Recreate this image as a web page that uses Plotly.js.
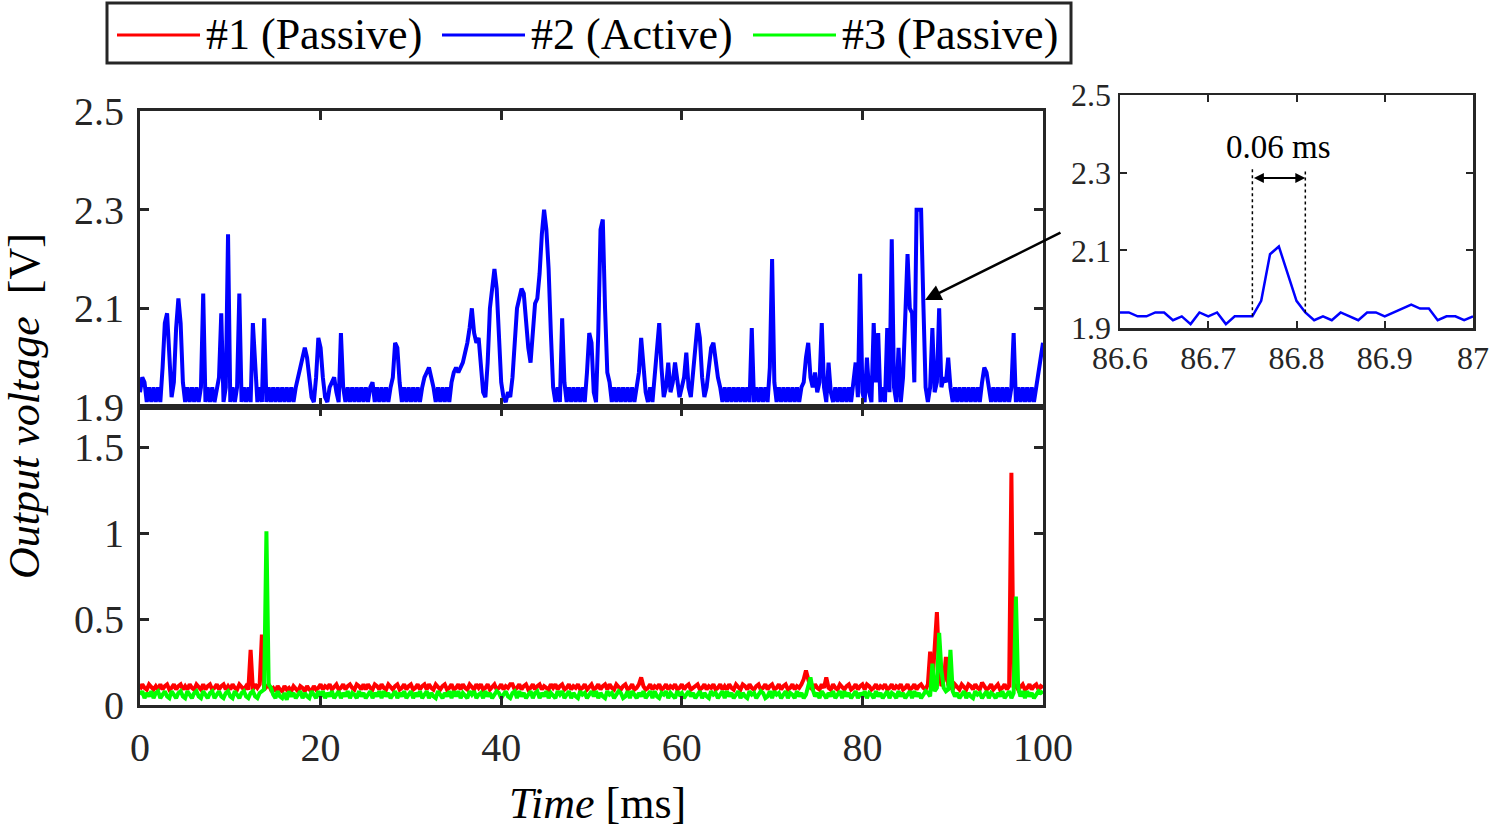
<!DOCTYPE html>
<html lang="en">
  <head>
    <meta charset="UTF-8" />
    <title>Output voltage</title>
    <script src="https://cdn.plot.ly/plotly-3.0.1.min.js"></script>
    <style>
      body { margin: 0; padding: 0; background: #fff; }
      #plot { width: 1489px; height: 827px; }
    </style>
  </head>
  <body>
    <div id="plot"></div>
    <script>
      // sample step of the read-off traces [ms]
      const dt = 0.25;

      // #2 (Active), top panel, t = 0..100 ms
      const v2 = [
        1.93,1.96,1.95,1.91,1.94,1.91,1.94,1.91,1.94,1.91,1.98,2.07,2.09,2.02,1.92,1.95,2.06,2.12,2.07,1.95,
        1.91,1.94,1.91,1.94,1.91,1.94,1.91,1.94,2.13,1.91,1.94,1.91,1.94,1.91,1.94,1.96,2.09,1.91,1.94,2.25,
        1.91,1.94,1.91,1.94,2.13,1.91,1.94,1.91,1.94,1.91,2.07,1.97,1.91,1.94,1.91,2.08,1.91,1.94,1.91,1.94,
        1.91,1.94,1.91,1.94,1.91,1.94,1.91,1.94,1.91,1.94,1.96,1.98,2.00,2.02,2.00,1.96,1.92,1.91,1.96,2.04,
        2.02,1.96,1.92,1.91,1.94,1.95,1.96,1.93,1.91,2.05,1.94,1.91,1.94,1.91,1.94,1.91,1.94,1.91,1.94,1.91,
        1.94,1.91,1.94,1.95,1.91,1.94,1.91,1.94,1.91,1.94,1.91,1.94,1.96,2.03,2.02,1.95,1.91,1.94,1.91,1.94,
        1.91,1.94,1.91,1.94,1.91,1.94,1.96,1.97,1.98,1.96,1.94,1.91,1.94,1.91,1.94,1.91,1.94,1.91,1.95,1.97,
        1.98,1.97,1.98,1.99,2.01,2.03,2.06,2.10,2.05,2.03,2.04,1.99,1.93,1.92,1.99,2.10,2.15,2.18,2.14,2.03,
        1.95,1.92,1.91,1.93,1.92,1.96,2.04,2.10,2.12,2.14,2.13,2.07,2.02,1.99,2.06,2.11,2.12,2.17,2.25,2.30,
        2.26,2.18,2.05,1.94,1.91,1.94,1.91,2.08,1.95,1.91,1.94,1.91,1.94,1.91,1.94,1.91,1.94,1.91,1.97,2.05,
        2.03,1.93,1.91,2.05,2.26,2.28,2.10,1.97,1.95,1.91,1.94,1.91,1.94,1.91,1.94,1.91,1.94,1.91,1.94,1.91,
        1.94,1.97,2.04,1.97,1.93,1.91,1.94,1.91,1.96,2.02,2.07,1.98,1.92,1.94,1.99,1.93,1.95,1.99,1.95,1.92,
        1.94,1.96,2.01,1.94,1.92,1.97,2.04,2.07,2.04,1.96,1.92,1.94,1.98,2.02,2.03,1.99,1.96,1.94,1.91,1.94,
        1.91,1.94,1.91,1.94,1.91,1.94,1.91,1.94,1.91,1.94,1.91,2.06,1.91,1.94,1.91,1.94,1.91,1.94,1.91,1.98,
        2.20,1.95,1.91,1.94,1.91,1.94,1.91,1.94,1.91,1.94,1.91,1.94,1.91,1.94,1.95,2.00,2.03,1.96,1.94,1.97,
        1.93,1.95,2.07,1.94,1.91,1.99,1.93,1.91,1.94,1.91,1.94,1.91,1.94,1.91,1.94,1.91,1.96,1.99,1.92,2.17,
        1.93,1.91,2.00,1.93,1.91,2.07,1.95,2.05,1.91,1.94,1.91,2.06,1.93,2.24,1.94,1.91,2.02,1.91,1.96,2.12,
        2.21,2.10,2.09,1.95,2.30,2.30,2.30,2.11,1.94,1.91,1.94,2.06,1.93,1.95,2.10,1.94,1.96,1.95,2.00,1.94,
        1.91,1.94,1.91,1.94,1.91,1.94,1.91,1.94,1.91,1.94,1.91,1.94,1.91,1.95,1.98,1.97,1.94,1.91,1.94,1.91,
        1.94,1.91,1.94,1.91,1.94,1.91,1.94,2.05,1.91,1.94,1.91,1.94,1.91,1.94,1.91,1.94,1.91,1.94,1.96,1.99,
        2.03
      ];

      // #1 (Passive), bottom panel
      const v1 = [
        .09,.12,.10,.09,.12,.10,.09,.11,.09,.12,.09,.11,.12,.09,.10,.12,.09,.11,.12,.09,
        .11,.09,.12,.10,.09,.12,.10,.09,.12,.09,.11,.12,.09,.10,.12,.09,.11,.12,.09,.11,
        .09,.12,.10,.09,.12,.10,.09,.11,.09,.32,.09,.12,.10,.12,.41,.09,.11,.12,.09,.10,
        .08,.11,.09,.08,.11,.09,.10,.08,.11,.09,.08,.11,.10,.08,.11,.09,.08,.11,.09,.10,
        .12,.09,.11,.10,.12,.09,.11,.12,.09,.10,.12,.09,.11,.12,.10,.09,.12,.11,.09,.12,
        .09,.12,.10,.09,.12,.11,.09,.12,.10,.09,.12,.10,.09,.11,.12,.09,.10,.12,.09,.11,
        .12,.09,.10,.12,.09,.11,.12,.09,.12,.10,.09,.12,.10,.09,.11,.12,.09,.10,.12,.09,
        .10,.12,.09,.12,.10,.09,.12,.10,.09,.12,.10,.12,.09,.10,.12,.09,.11,.12,.09,.10,
        .12,.09,.11,.10,.12,.12,.09,.10,.12,.09,.11,.12,.09,.10,.12,.09,.11,.12,.09,.11,
        .10,.09,.12,.10,.12,.09,.11,.12,.09,.10,.12,.09,.11,.10,.12,.09,.10,.12,.09,.11,
        .12,.09,.10,.12,.09,.11,.12,.09,.12,.10,.09,.12,.10,.09,.11,.12,.09,.10,.12,.09,
        .10,.12,.16,.11,.09,.10,.12,.09,.11,.10,.12,.09,.10,.12,.09,.11,.10,.12,.09,.10,
        .12,.09,.11,.12,.09,.10,.11,.12,.09,.10,.12,.09,.11,.10,.12,.09,.10,.12,.09,.11,
        .09,.12,.10,.09,.12,.10,.09,.12,.11,.09,.12,.10,.09,.11,.12,.09,.10,.12,.09,.11,
        .12,.09,.10,.12,.09,.11,.12,.09,.10,.12,.09,.11,.10,.12,.15,.20,.15,.10,.09,.12,
        .10,.09,.12,.10,.16,.10,.09,.12,.10,.09,.12,.10,.09,.11,.12,.09,.10,.12,.09,.11,
        .12,.09,.12,.11,.09,.10,.12,.09,.11,.10,.12,.09,.10,.12,.09,.11,.10,.12,.09,.10,
        .12,.09,.10,.12,.09,.11,.12,.10,.09,.12,.31,.12,.30,.54,.22,.11,.14,.28,.12,.10,
        .09,.12,.10,.09,.12,.10,.09,.12,.11,.09,.12,.10,.09,.13,.11,.09,.10,.12,.09,.11,
        .12,.09,.10,.12,.09,.11,1.35,.10,.12,.09,.11,.12,.09,.10,.12,.09,.11,.12,.09,.11,
        .10
      ];

      // #3 (Passive), bottom panel
      const v3 = [
        .06,.08,.04,.07,.05,.08,.04,.07,.08,.04,.06,.08,.05,.04,.08,.06,.04,.07,.08,.05,
        .04,.08,.06,.04,.07,.08,.05,.04,.08,.06,.04,.07,.08,.04,.06,.08,.05,.04,.07,.08,
        .05,.04,.08,.06,.04,.07,.08,.05,.04,.07,.08,.05,.04,.07,.08,.09,1.01,.12,.10,.06,
        .04,.08,.05,.04,.07,.03,.08,.05,.07,.04,.06,.08,.04,.07,.05,.04,.08,.06,.04,.08,
        .05,.08,.04,.07,.05,.08,.04,.06,.08,.04,.07,.05,.08,.04,.07,.06,.04,.08,.05,.07,
        .04,.06,.08,.04,.07,.05,.08,.04,.08,.05,.07,.04,.06,.08,.04,.07,.05,.08,.04,.06,
        .08,.04,.07,.05,.08,.04,.06,.08,.04,.07,.05,.04,.08,.06,.04,.07,.05,.08,.04,.08,
        .05,.08,.04,.07,.05,.04,.08,.06,.08,.04,.06,.07,.04,.08,.05,.07,.04,.06,.08,.07,
        .04,.06,.08,.05,.04,.07,.08,.04,.08,.05,.07,.04,.06,.08,.04,.07,.08,.04,.07,.05,
        .08,.04,.07,.05,.04,.08,.06,.08,.04,.06,.08,.04,.07,.05,.04,.08,.06,.07,.04,.06,
        .08,.05,.08,.04,.07,.05,.04,.08,.06,.07,.04,.06,.08,.07,.04,.05,.08,.04,.08,.06,
        .04,.07,.05,.08,.04,.06,.08,.04,.08,.05,.04,.07,.06,.08,.04,.07,.05,.04,.08,.06,
        .07,.04,.06,.08,.05,.07,.04,.06,.08,.04,.07,.05,.04,.08,.06,.07,.04,.06,.08,.04,
        .08,.05,.07,.04,.06,.08,.04,.07,.05,.04,.08,.06,.07,.04,.06,.08,.07,.04,.05,.08,
        .04,.08,.06,.07,.04,.06,.08,.04,.07,.06,.04,.08,.05,.07,.04,.06,.12,.16,.09,.05,
        .07,.04,.08,.06,.04,.07,.05,.08,.04,.06,.08,.04,.08,.05,.07,.04,.06,.08,.04,.07,
        .05,.08,.04,.07,.06,.04,.08,.05,.07,.04,.06,.08,.04,.07,.06,.04,.08,.05,.07,.04,
        .06,.08,.04,.08,.05,.07,.04,.06,.08,.07,.05,.24,.08,.10,.42,.20,.10,.08,.09,.32,
        .08,.05,.07,.04,.06,.08,.04,.07,.05,.04,.08,.06,.07,.04,.06,.08,.04,.07,.06,.04,
        .07,.05,.08,.04,.06,.08,.04,.07,.63,.10,.05,.08,.04,.08,.05,.07,.04,.06,.08,.07,
        .08
      ];

      // zoomed window of #2, 86.6..87 ms, 0.01 ms steps
      const zoomStart = 86.6, zoomStep = 0.01;
      const vZoom = [
        1.94,1.94,1.93,1.93,1.94,1.94,1.92,1.93,1.91,1.94,1.93,1.94,1.91,1.93,1.93,1.93,
        1.97,2.09,2.11,2.04,1.97,1.94,1.92,1.93,1.92,1.94,1.93,1.92,1.94,1.94,1.93,1.94,
        1.95,1.96,1.95,1.95,1.92,1.93,1.93,1.92,1.93
      ];

      const names = ["#1 (Passive)", "#2 (Active)", "#3 (Passive)"];
      const colors = ["#ff0000", "#0000ff", "#00ff00"];

      const mainTicks = [0, 20, 40, 60, 80, 100];
      const topTicks = [1.9, 2.1, 2.3, 2.5];
      const bottomTicks = [0, 0.5, 1, 1.5];
      const zoomTicks = [86.6, 86.7, 86.8, 86.9, 87];
      const pulseStart = 86.75, pulseEnd = 86.81;

      const timeOf = (arr) => arr.map((_, i) => i * dt);
      const tZoom = vZoom.map((_, i) => +(zoomStart + i * zoomStep).toFixed(2));

      const W = 1489, H = 827;
      const px = (x) => x / W;
      const py = (y) => 1 - y / H;

      const ink = "#262626";
      const serif = "Liberation Serif, Times New Roman, serif";

      function axis(extra) {
        return Object.assign(
          {
            showline: true,
            linecolor: ink,
            linewidth: 3,
            mirror: "ticks",
            ticks: "inside",
            ticklen: 9,
            tickwidth: 3,
            tickcolor: ink,
            showgrid: false,
            zeroline: false,
            fixedrange: true,
            tickfont: { family: serif, size: 40, color: ink },
          },
          extra
        );
      }

      const traces = [
        {
          x: timeOf(v1), y: v1, xaxis: "x2", yaxis: "y2", type: "scatter", mode: "lines",
          line: { color: colors[0], width: 4 }, name: names[0],
        },
        {
          x: timeOf(v3), y: v3, xaxis: "x2", yaxis: "y2", type: "scatter", mode: "lines",
          line: { color: colors[2], width: 4 }, name: names[2],
        },
        {
          x: timeOf(v2), y: v2, xaxis: "x", yaxis: "y", type: "scatter", mode: "lines",
          line: { color: colors[1], width: 4 }, name: names[1],
        },
        {
          x: tZoom, y: vZoom, xaxis: "x3", yaxis: "y3", type: "scatter", mode: "lines",
          line: { color: colors[1], width: 2.5 }, name: names[1],
        },
      ];

      const mainDom = [px(140), px(1043)];

      // hand-built legend box like the original figure
      const legendX = [117, 442, 753];
      const shapes = [
        {
          type: "rect", xref: "paper", yref: "paper",
          x0: px(107), x1: px(1071), y0: py(63), y1: py(3),
          line: { color: ink, width: 3 }, fillcolor: "#fff",
        },
        {
          type: "line", xref: "x3", yref: "y3",
          x0: pulseStart, x1: pulseStart, y0: 1.93, y1: 2.31,
          line: { color: "#000", width: 1.5, dash: "dot" },
        },
        {
          type: "line", xref: "x3", yref: "y3",
          x0: pulseEnd, x1: pulseEnd, y0: 1.94, y1: 2.31,
          line: { color: "#000", width: 1.5, dash: "dot" },
        },
      ];
      const annotations = [];
      names.forEach((n, i) => {
        shapes.push({
          type: "line", xref: "paper", yref: "paper",
          x0: px(legendX[i]), x1: px(legendX[i] + 83), y0: py(35), y1: py(35),
          line: { color: colors[i], width: 3 },
        });
        annotations.push({
          xref: "paper", yref: "paper", x: px(legendX[i] + 87), y: py(35),
          xanchor: "left", yanchor: "middle", showarrow: false, text: n,
          font: { family: serif, size: 44, color: "#000" },
        });
      });

      annotations.push(
        {
          xref: "paper", yref: "paper", x: px(25), y: py(406),
          textangle: -90, showarrow: false, xanchor: "center", yanchor: "middle",
          text: "<i>Output voltage</i>&nbsp; [V]",
          font: { family: serif, size: 44, color: "#000" },
        },
        {
          xref: "paper", yref: "paper", x: px(597), y: py(803),
          showarrow: false, xanchor: "center", yanchor: "middle",
          text: "<i>Time</i> [ms]",
          font: { family: serif, size: 44, color: "#000" },
        },
        {
          xref: "x", yref: "y", x: 86.93, y: 2.117,
          ax: 137, ay: -68, text: "", showarrow: true,
          arrowhead: 2, arrowsize: 1.3, arrowwidth: 2.5, arrowcolor: "#000", standoff: 0,
        },
        {
          xref: "x3", yref: "y3", x: pulseEnd, y: 2.286,
          axref: "x3", ayref: "y3", ax: pulseStart, ay: 2.286,
          text: "", showarrow: true, arrowside: "end+start",
          arrowhead: 2, arrowsize: 1, arrowwidth: 2, arrowcolor: "#000", standoff: 0, startstandoff: 0,
        },
        {
          xref: "x3", yref: "y3", x: (pulseStart + pulseEnd) / 2, y: 2.365,
          showarrow: false, text: "0.06 ms",
          font: { family: serif, size: 33, color: "#000" },
        }
      );

      const layout = {
        width: W,
        height: H,
        margin: { l: 0, r: 0, t: 0, b: 0 },
        paper_bgcolor: "#fff",
        plot_bgcolor: "rgba(0,0,0,0)",
        showlegend: false,
        xaxis: axis({
          domain: mainDom, anchor: "y", range: [0, 100],
          tickvals: mainTicks, showticklabels: false,
        }),
        yaxis: axis({
          domain: [py(407), py(111)], anchor: "x", range: [1.9, 2.5],
          tickvals: topTicks, ticktext: topTicks.map((v) => v.toFixed(1)),
          ticklabelstandoff: 5,
        }),
        xaxis2: axis({
          domain: mainDom, anchor: "y2", range: [0, 100],
          tickvals: mainTicks, ticklabelstandoff: 5,
        }),
        yaxis2: axis({
          domain: [py(705), py(407)], anchor: "x2", range: [0, 298 / 172],
          tickvals: bottomTicks, ticktext: bottomTicks.map(String),
          ticklabelstandoff: 5,
        }),
        xaxis3: axis({
          domain: [px(1120), px(1473)], anchor: "y3", range: [86.6, 87],
          tickvals: zoomTicks, ticktext: zoomTicks.map(String),
          ticklen: 7, tickwidth: 2, linewidth: 2.5,
          tickfont: { family: serif, size: 32, color: ink },
          ticklabelstandoff: 0,
        }),
        yaxis3: axis({
          domain: [py(328), py(95)], anchor: "x3", range: [1.9, 2.5],
          tickvals: topTicks, ticktext: topTicks.map((v) => v.toFixed(1)),
          ticklen: 7, tickwidth: 2, linewidth: 2.5,
          tickfont: { family: serif, size: 32, color: ink },
          ticklabelstandoff: 0,
        }),
        shapes: shapes,
        annotations: annotations,
      };

      Plotly.newPlot("plot", traces, layout, { displayModeBar: false, staticPlot: true });
    </script>
  </body>
</html>
